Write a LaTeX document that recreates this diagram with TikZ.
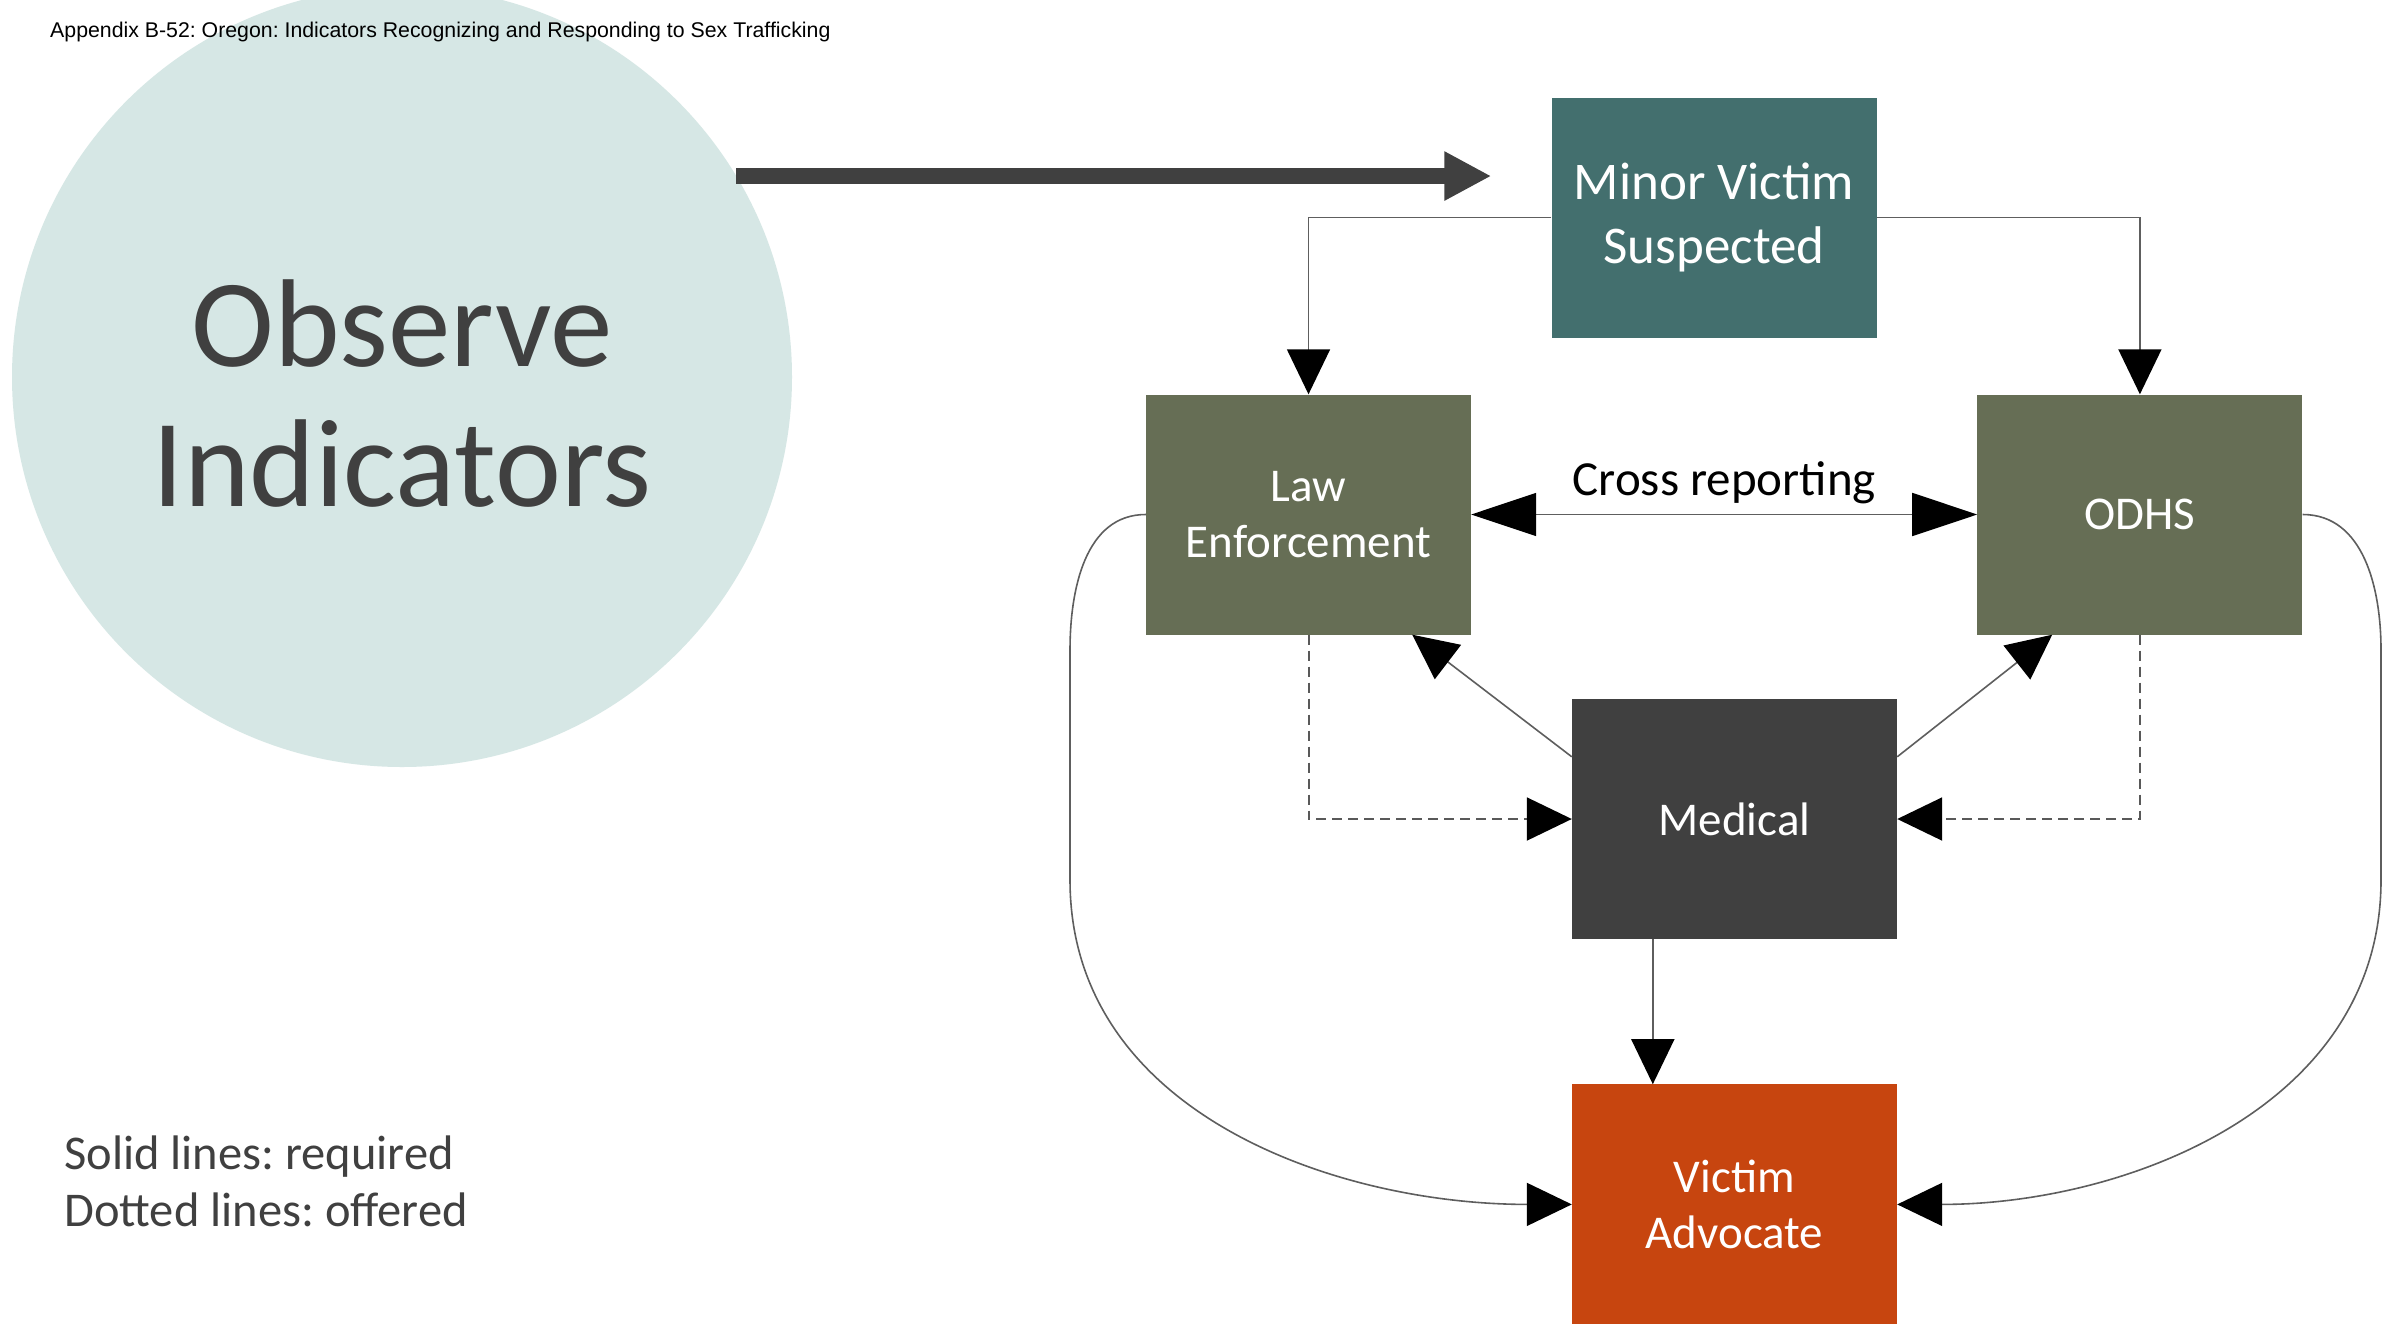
\documentclass[tikz,border=0pt]{standalone}
\usepackage{fontspec}
\setmainfont{Carlito}
\newfontfamily\headfont{Liberation Sans}
\usepackage{tikz}
\usetikzlibrary{arrows.meta,positioning,calc}
\frenchspacing
\definecolor{circTint}{HTML}{D6E7E5}
\definecolor{tealBox}{HTML}{436F6E}
\definecolor{oliveBox}{HTML}{666E55}
\definecolor{darkBox}{HTML}{404040}
\definecolor{rustBox}{HTML}{C7450F}
\definecolor{inkGray}{HTML}{404040}
\definecolor{lineGray}{HTML}{5E5E5E}
\tikzset{
  agency/.style={rectangle, draw=none, text=white, align=center, inner sep=0pt, minimum width=325pt, minimum height=240pt, font=\fontsize{47}{56}\selectfont},
  link/.style={-{Triangle[length=45pt, width=43pt, color=black]}, line width=1.6pt, draw=lineGray},
  offer/.style={link, line width=2pt, draw=black!65, dash pattern=on 10pt off 6pt},
  bigarrow/.style={-{Triangle[length=47pt, width=46pt]}, line width=16pt, draw=darkBox}
}

\begin{document}
\begin{tikzpicture}[x=1pt, y=-1pt]
  \useasboundingbox[fill=white] (0,0) rectangle (2387,1326);
  \node[circle, fill=circTint, inner sep=0pt, minimum size=780pt] (obs) at (402,377) {};
  \node[align=center, text=inkGray, font=\fontsize{125}{140}\selectfont] (obstext) at ($(obs.center)+(0,17)$) {Observe\\Indicators};
  \node[anchor=west, inner sep=0pt, font=\headfont\fontsize{21.3}{25}\selectfont] (title) at (50,32) {Appendix B-52: Oregon: Indicators Recognizing and Responding to Sex Trafficking};
  \node[agency, fill=tealBox, font=\fontsize{53}{64}\selectfont] (minor) at (1714,217.5) {Minor Victim\\Suspected};
  \node[agency, fill=oliveBox] (law) at (1308.5,514.5) {Law\\Enforcement};
  \node[agency, fill=oliveBox, right=506pt of law] (odhs) {ODHS};
  \node[agency, fill=darkBox] (med) at (1734.5,819) {Medical};
  \node[agency, fill=rustBox, below=145pt of med] (va) {Victim\\Advocate};
  \node[anchor=west, align=left, inner sep=0pt, text=inkGray, font=\fontsize{48.5}{57}\selectfont] (key) at (64,1181) {Solid lines: required\\Dotted lines: offered};
  % main arrow out of the circle
  \draw[bigarrow, shorten >=60pt] (obs.31.5) -- (obs.31.5 -| minor.west);
  % required reports
  \draw[link] (minor.west) -| (law.north);
  \draw[link] (minor.east) -| (odhs.north);
  \draw[{Triangle[length=65pt, width=43pt, color=black]}-{Triangle[length=65pt, width=43pt, color=black]}, line width=1.6pt, draw=lineGray] (law.east) -- (odhs.west)
    node[midway, above=10pt, inner sep=0pt, text=black, font=\fontsize{49}{58}\selectfont] (cross) {Cross reporting};
  \draw[link] ($(med.north west)+(0,58)$) -- ($(law.south east)+(-59,0)$);
  \draw[link] ($(med.north east)+(0,58)$) -- ($(odhs.south west)+(75,0)$);
  \draw[link] ($(med.south west)+(81,0)$) -- ($(va.north west)+(81,0)$);
  \draw[link] (law.west) to[out=180, in=90] (1070,650) -- (1070,880) to[out=-90, in=180] (va.west);
  \draw[link] (odhs.east) to[out=0, in=90] (2381,650) -- (2381,880) to[out=-90, in=0] (va.east);
  % offered contacts
  \draw[offer] (law.south) |- (med.west);
  \draw[offer] (odhs.south) |- (med.east);
\end{tikzpicture}
\end{document}
